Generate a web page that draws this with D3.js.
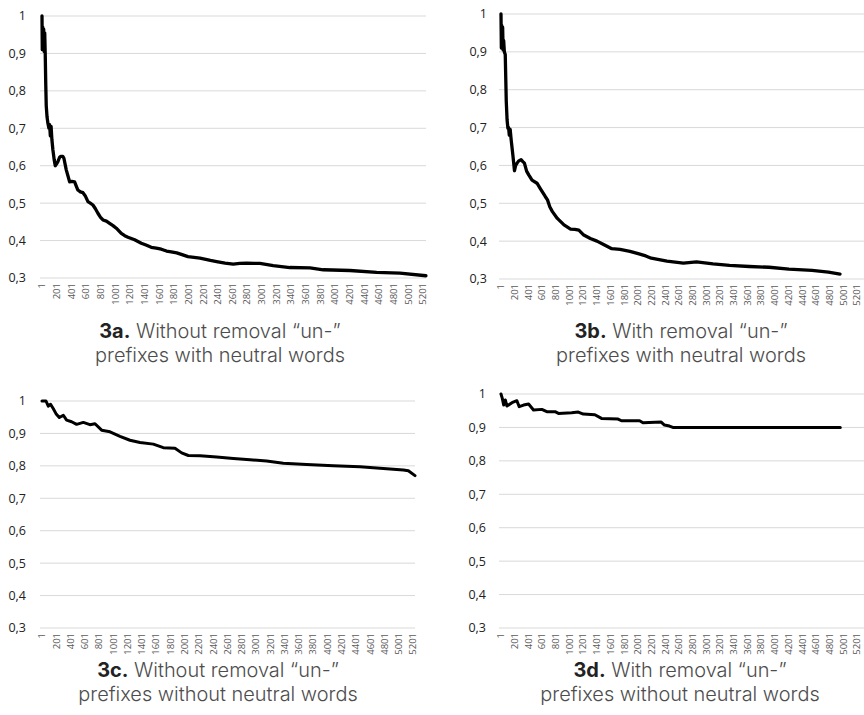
<!DOCTYPE html>
<html>
<head>
<meta charset="utf-8">
<script src="https://cdn.jsdelivr.net/npm/d3@7"></script>
<style>
  body { margin: 0; background: #fff; }
</style>
</head>
<body>
<div class="charts"></div>
<script>
// category labels on every x axis
const xTickLabels = [1, 201, 401, 601, 801, 1001, 1201, 1401, 1601, 1801, 2001, 2201, 2401, 2601,
  2801, 3001, 3201, 3401, 3601, 3801, 4001, 4201, 4401, 4601, 4801, 5001, 5201];
const yTickValues = [0.3, 0.4, 0.5, 0.6, 0.7, 0.8, 0.9, 1];

// 3a - without removal, with neutral words
const idxA = [1, 5, 12, 18, 24, 30, 38, 45, 52, 59, 70, 82, 95, 105, 115, 125, 136, 150, 168, 182, 200,
  218, 240, 255, 285, 300, 332, 378, 410, 446, 470, 491, 525, 560, 590, 628, 660, 696, 730, 764, 800,
  833, 880, 924, 970, 1015, 1083, 1130, 1174, 1265, 1356, 1420, 1492, 1560, 1629, 1700, 1765, 1840,
  1902, 1993, 2157, 2300, 2384, 2500, 2611, 2700, 2794, 2900, 2975, 3157, 3384, 3658, 3840, 4204,
  4568, 4887, 5241];
const valA = [1, 0.91, 0.97, 0.92, 0.965, 0.905, 0.955, 0.9, 0.82, 0.76, 0.73, 0.713, 0.7, 0.71, 0.68,
  0.705, 0.67, 0.642, 0.615, 0.6, 0.605, 0.611, 0.622, 0.625, 0.625, 0.62, 0.589, 0.557, 0.558, 0.557,
  0.545, 0.535, 0.53, 0.528, 0.52, 0.504, 0.5, 0.495, 0.485, 0.473, 0.462, 0.455, 0.452, 0.446, 0.44,
  0.433, 0.419, 0.413, 0.409, 0.402, 0.393, 0.388, 0.382, 0.38, 0.377, 0.372, 0.37, 0.367, 0.363,
  0.357, 0.353, 0.347, 0.344, 0.34, 0.337, 0.339, 0.34, 0.339, 0.339, 0.333, 0.328, 0.327, 0.322,
  0.32, 0.315, 0.313, 0.306];

// 3b - with removal, with neutral words
const idxB = [1, 6, 12, 18, 25, 32, 40, 50, 63, 78, 90, 102, 112, 122, 135, 150, 174, 198, 215, 236,
  260, 294, 320, 343, 375, 406, 454, 527, 575, 647, 680, 715, 752, 824, 921, 1017, 1080, 1138, 1210,
  1306, 1403, 1499, 1619, 1740, 1884, 2005, 2115, 2196, 2425, 2665, 2857, 3098, 3339, 3628, 3917,
  4206, 4543, 4784, 4953];
const valB = [1, 0.91, 0.97, 0.92, 0.965, 0.905, 0.93, 0.9, 0.893, 0.769, 0.72, 0.698, 0.7, 0.68,
  0.695, 0.667, 0.628, 0.586, 0.6, 0.606, 0.612, 0.615, 0.61, 0.606, 0.585, 0.575, 0.561, 0.553,
  0.539, 0.518, 0.509, 0.49, 0.478, 0.46, 0.443, 0.432, 0.431, 0.429, 0.416, 0.407, 0.4, 0.391, 0.38,
  0.378, 0.373, 0.367, 0.361, 0.355, 0.347, 0.342, 0.345, 0.34, 0.336, 0.333, 0.331, 0.326, 0.323,
  0.318, 0.313];

// 3c - without removal, without neutral words
const idxC = [1, 57, 89, 121, 160, 197, 244, 300, 346, 416, 486, 580, 673, 744, 837, 954, 1094, 1234,
  1374, 1561, 1701, 1865, 1958, 2052, 2216, 2449, 2683, 2916, 3150, 3383, 3710, 4084, 4458, 4785,
  5066, 5136, 5229];
const valC = [1, 1, 0.984, 0.99, 0.976, 0.961, 0.949, 0.956, 0.941, 0.936, 0.928, 0.934, 0.927, 0.93,
  0.91, 0.905, 0.891, 0.879, 0.872, 0.867, 0.856, 0.854, 0.84, 0.832, 0.831, 0.827, 0.823, 0.819,
  0.815, 0.808, 0.804, 0.8, 0.797, 0.792, 0.787, 0.785, 0.77];

// 3d - with removal, without neutral words
const idxD = [1, 20, 40, 64, 88, 161, 233, 267, 331, 404, 476, 597, 670, 791, 840, 1033, 1130, 1203,
  1372, 1469, 1711, 1760, 2025, 2075, 2341, 2389, 2462, 2511, 4957];
const valD = [1, 0.987, 0.967, 0.982, 0.964, 0.974, 0.98, 0.962, 0.967, 0.97, 0.952, 0.954, 0.947,
  0.947, 0.942, 0.944, 0.946, 0.94, 0.938, 0.927, 0.925, 0.92, 0.92, 0.914, 0.916, 0.907, 0.904, 0.9,
  0.9];

const svg = d3.select(".charts")
  .append("svg")
    .attr("width", 864)
    .attr("height", 715);

const fmt = v => (v === 1 ? "1" : d3.format(".1f")(v).replace(".", ","));

// caption font size: fit "prefixes with neutral words" to ~250px
const probe = svg.append("text")
  .style("font-family", "Inter, sans-serif")
  .style("font-weight", 300)
  .style("font-size", "18px")
  .text("prefixes with neutral words");
const capSize = 18 * 250 / probe.node().getComputedTextLength();
probe.remove();

function drawPanel(p, idx, val, tag, title, sub)
{
  const x = d3.scaleLinear().domain([1, 5201]).range([p.x1, p.x5201]);
  const y = d3.scaleLinear().domain([0.3, 1]).range([p.y03, p.y1]);

  const g = svg.append("g");

  // gridlines
  g.selectAll(".grid")
    .data(yTickValues)
    .enter()
    .append("line")
      .attr("x1", p.gridLeft)
      .attr("x2", p.gridRight)
      .attr("y1", d => y(d))
      .attr("y2", d => y(d))
      .attr("stroke", "#d9d9d9")
      .attr("stroke-width", 1);

  // y labels
  g.selectAll(".ylab")
    .data(yTickValues)
    .enter()
    .append("text")
      .attr("x", p.labelRight)
      .attr("y", d => y(d))
      .attr("dy", "0.35em")
      .attr("text-anchor", "end")
      .style("font-family", "'Open Sans', sans-serif")
      .style("font-size", "12.5px")
      .style("fill", "#222")
      .text(fmt);

  // x labels, rotated
  const top = y(0.3) + 5;
  g.selectAll(".xlab")
    .data(xTickLabels)
    .enter()
    .append("text")
      .attr("x", d => x(d))
      .attr("y", top)
      .attr("dy", "0.35em")
      .attr("text-anchor", "end")
      .attr("transform", d => "rotate(-90," + x(d) + "," + top + ")")
      .style("font-family", "'Open Sans', sans-serif")
      .style("font-size", "9.5px")
      .style("fill", "#595959")
      .text(d => d);

  // the line
  const pts = idx.map((d, i) => [d, val[i]]);
  g.append("path")
    .datum(pts)
    .attr("fill", "none")
    .attr("stroke", "#000")
    .attr("stroke-width", p.lw)
    .attr("stroke-linejoin", "round")
    .attr("stroke-linecap", "round")
    .attr("d", d3.line().x(d => x(d[0])).y(d => y(d[1])));

  // caption
  const cap = g.append("text")
    .attr("x", p.capX)
    .attr("y", p.capY)
    .attr("text-anchor", "middle")
    .style("font-family", "Inter, sans-serif")
    .style("font-size", capSize + "px")
    .style("font-weight", 300)
    .style("fill", "#4d4d4d");
  cap.append("tspan").style("font-weight", 700).style("fill", "#222").text(tag);
  cap.append("tspan").text(" " + title);
  g.append("text")
    .attr("x", p.capX)
    .attr("y", p.capY + 24)
    .attr("text-anchor", "middle")
    .style("font-family", "Inter, sans-serif")
    .style("font-size", capSize + "px")
    .style("font-weight", 300)
    .style("fill", "#4d4d4d")
    .text(sub);
}

drawPanel({gridLeft: 40, gridRight: 426, x1: 42, x5201: 423, y1: 16, y03: 278, labelRight: 26, capX: 220, capY: 338, lw: 3.3},
  idxA, valA, "3a.", "Without removal \u201cun-\u201d", "prefixes with neutral words");
drawPanel({gridLeft: 499, gridRight: 864, x1: 501, x5201: 857, y1: 14, y03: 279, labelRight: 487, capX: 681, capY: 338, lw: 3.3},
  idxB, valB, "3b.", "With removal \u201cun-\u201d", "prefixes with neutral words");
drawPanel({gridLeft: 40, gridRight: 415, x1: 42, x5201: 413, y1: 401, y03: 628, labelRight: 26, capX: 218, capY: 677, lw: 3},
  idxC, valC, "3c.", "Without removal \u201cun-\u201d", "prefixes without neutral words");
drawPanel({gridLeft: 499, gridRight: 864, x1: 501, x5201: 857, y1: 394, y03: 628, labelRight: 486, capX: 680, capY: 677, lw: 3},
  idxD, valD, "3d.", "With removal \u201cun-\u201d", "prefixes without neutral words");
</script>
</body>
</html>
